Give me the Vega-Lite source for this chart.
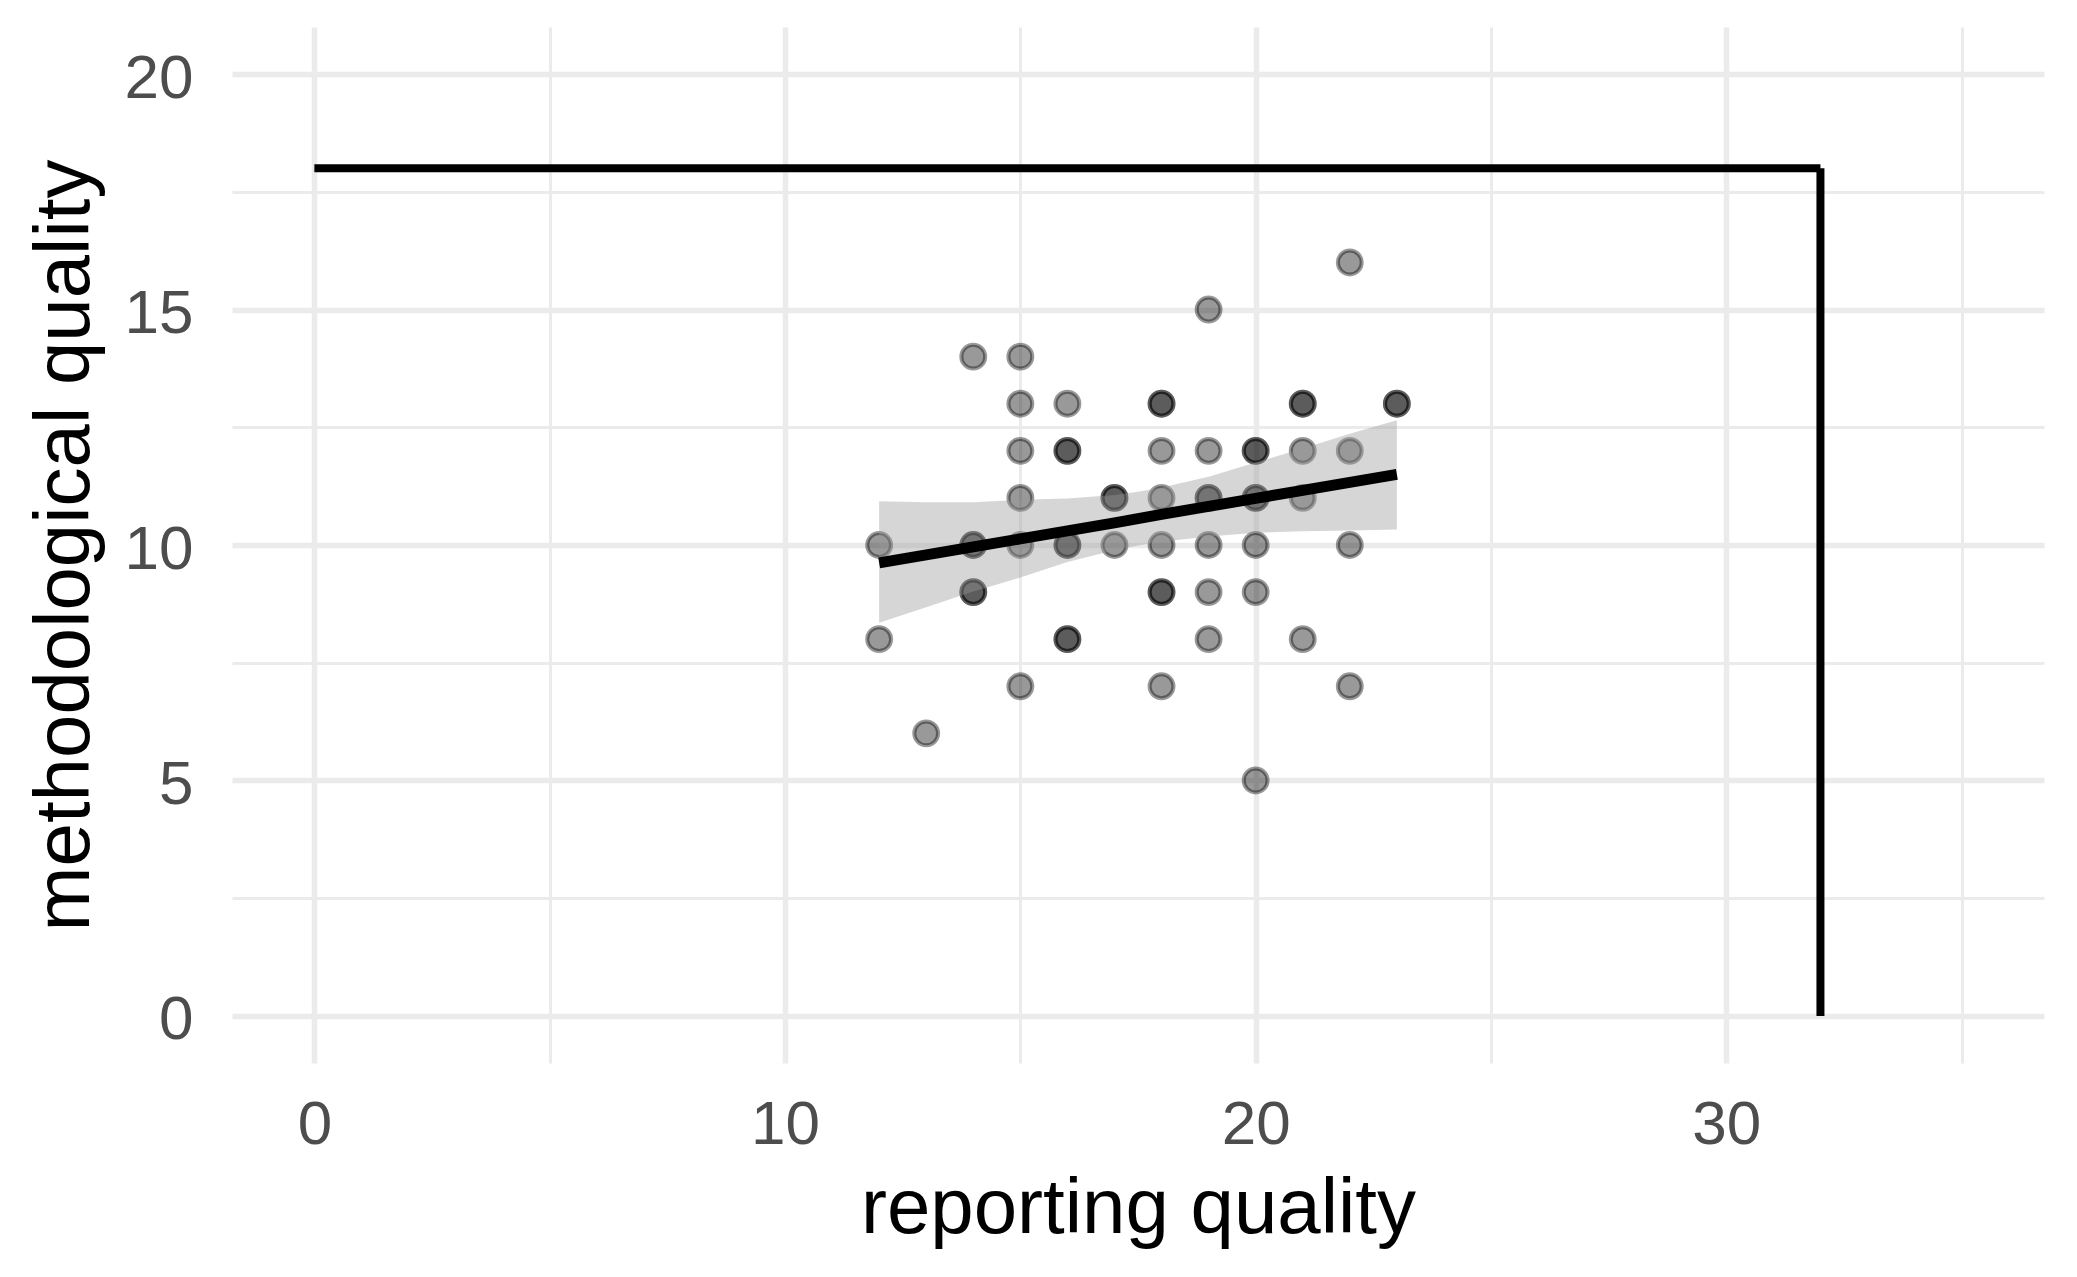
{
  "$schema": "https://vega.github.io/schema/vega-lite/v6.json",
  "width": 1812,
  "height": 1036,
  "autosize": {"type": "none"},
  "padding": {"left": 232, "top": 27, "right": 33, "bottom": 214},
  "background": "white",
  "config": {
    "view": {"stroke": null},
    "font": "Liberation Sans",
    "axis": {
      "domain": false,
      "ticks": false,
      "tickSize": 0,
      "grid": true,
      "gridColor": "#EBEBEB",
      "labelFont": "Liberation Sans",
      "labelFontSize": 62,
      "labelColor": "#4D4D4D",
      "labelOverlap": false,
      "labelFlush": false,
      "titleFont": "Liberation Sans",
      "titleFontSize": 78,
      "titleFontWeight": "normal",
      "titleColor": "#000000"
    }
  },
  "datasets": {
    "pts": [
      {"rq": 12, "mq": 10}, {"rq": 12, "mq": 8}, {"rq": 13, "mq": 6},
      {"rq": 14, "mq": 14}, {"rq": 14, "mq": 10}, {"rq": 14, "mq": 10}, {"rq": 14, "mq": 9}, {"rq": 14, "mq": 9},
      {"rq": 15, "mq": 14}, {"rq": 15, "mq": 13}, {"rq": 15, "mq": 12}, {"rq": 15, "mq": 11}, {"rq": 15, "mq": 10}, {"rq": 15, "mq": 7},
      {"rq": 16, "mq": 13}, {"rq": 16, "mq": 12}, {"rq": 16, "mq": 12}, {"rq": 16, "mq": 10}, {"rq": 16, "mq": 10}, {"rq": 16, "mq": 8}, {"rq": 16, "mq": 8},
      {"rq": 17, "mq": 11}, {"rq": 17, "mq": 11}, {"rq": 17, "mq": 10},
      {"rq": 18, "mq": 13}, {"rq": 18, "mq": 13}, {"rq": 18, "mq": 12}, {"rq": 18, "mq": 11}, {"rq": 18, "mq": 10}, {"rq": 18, "mq": 9}, {"rq": 18, "mq": 9}, {"rq": 18, "mq": 7},
      {"rq": 19, "mq": 15}, {"rq": 19, "mq": 12}, {"rq": 19, "mq": 11}, {"rq": 19, "mq": 11}, {"rq": 19, "mq": 10}, {"rq": 19, "mq": 9}, {"rq": 19, "mq": 8},
      {"rq": 20, "mq": 12}, {"rq": 20, "mq": 12}, {"rq": 20, "mq": 11}, {"rq": 20, "mq": 11}, {"rq": 20, "mq": 10}, {"rq": 20, "mq": 9}, {"rq": 20, "mq": 5},
      {"rq": 21, "mq": 13}, {"rq": 21, "mq": 13}, {"rq": 21, "mq": 12}, {"rq": 21, "mq": 11}, {"rq": 21, "mq": 8},
      {"rq": 22, "mq": 16}, {"rq": 22, "mq": 12}, {"rq": 22, "mq": 10}, {"rq": 22, "mq": 7},
      {"rq": 23, "mq": 13}, {"rq": 23, "mq": 13}
    ],
    "band": [
      {"rq": 12, "fit": 9.62, "lo": 8.35, "hi": 10.93},
      {"rq": 13, "fit": 9.79, "lo": 8.68, "hi": 10.91},
      {"rq": 14, "fit": 9.96, "lo": 9.01, "hi": 10.91},
      {"rq": 15, "fit": 10.13, "lo": 9.31, "hi": 10.96},
      {"rq": 16, "fit": 10.30, "lo": 9.64, "hi": 10.99},
      {"rq": 17, "fit": 10.47, "lo": 9.89, "hi": 11.06},
      {"rq": 17.5, "fit": 10.56, "lo": 9.99, "hi": 11.13},
      {"rq": 18, "fit": 10.65, "lo": 10.07, "hi": 11.22},
      {"rq": 19, "fit": 10.82, "lo": 10.18, "hi": 11.45},
      {"rq": 20, "fit": 10.99, "lo": 10.26, "hi": 11.75},
      {"rq": 21, "fit": 11.16, "lo": 10.29, "hi": 12.05},
      {"rq": 22, "fit": 11.33, "lo": 10.31, "hi": 12.36},
      {"rq": 23, "fit": 11.50, "lo": 10.33, "hi": 12.65}
    ],
    "segs": [
      {"x": 0, "x2": 32, "y": 18, "y2": 18},
      {"x": 32, "x2": 32, "y": 18, "y2": 0}
    ]
  },
  "layer": [
    {
      "data": {"name": "pts"},
      "mark": {"type": "point", "shape": "circle", "filled": true, "fill": "#000000", "stroke": "#000000", "fillOpacity": 0.4, "strokeOpacity": 0.4, "strokeWidth": 4, "size": 570, "opacity": 1},
      "encoding": {
        "x": {
          "field": "rq", "type": "quantitative", "title": "reporting quality",
          "scale": {"domain": [-1.75, 36.75], "nice": false, "zero": false},
          "axis": {
            "values": [0, 5, 10, 15, 20, 25, 30, 35],
            "labelExpr": "datum.value % 10 === 0 ? datum.label : ''",
            "gridWidth": {"condition": {"test": "datum.value % 10 === 0", "value": 5.5}, "value": 3},
            "labelPadding": 31,
            "titleX": 906,
            "titleY": 169,
            "titleAlign": "center",
            "titleBaseline": "alphabetic"
          }
        },
        "y": {
          "field": "mq", "type": "quantitative", "title": "methodological quality",
          "scale": {"domain": [-1, 21], "nice": false, "zero": false},
          "axis": {
            "values": [0, 2.5, 5, 7.5, 10, 12.5, 15, 17.5, 20],
            "labelExpr": "datum.value % 5 === 0 ? datum.label : ''",
            "gridWidth": {"condition": {"test": "datum.value % 5 === 0", "value": 5.5}, "value": 3},
            "labelPadding": 39,
            "labelBaseline": "middle",
            "labelOffset": 4,
            "titleX": -144,
            "titleY": 518,
            "titleAngle": -90,
            "titleAlign": "center",
            "titleBaseline": "alphabetic"
          }
        }
      }
    },
    {
      "data": {"name": "band"},
      "mark": {"type": "area", "fill": "#999999", "opacity": 0.4},
      "encoding": {
        "x": {"field": "rq", "type": "quantitative", "title": "reporting quality", "scale": {"domain": [-1.75, 36.75], "nice": false, "zero": false}},
        "y": {"field": "lo", "type": "quantitative", "title": "methodological quality", "scale": {"domain": [-1, 21], "nice": false, "zero": false}},
        "y2": {"field": "hi"}
      }
    },
    {
      "data": {"name": "band"},
      "mark": {"type": "line", "color": "#000000", "strokeWidth": 11},
      "encoding": {
        "x": {"field": "rq", "type": "quantitative", "title": "reporting quality", "scale": {"domain": [-1.75, 36.75], "nice": false, "zero": false}},
        "y": {"field": "fit", "type": "quantitative", "title": "methodological quality", "scale": {"domain": [-1, 21], "nice": false, "zero": false}}
      }
    },
    {
      "data": {"name": "segs"},
      "mark": {"type": "rule", "color": "#000000", "strokeWidth": 8, "strokeCap": "butt"},
      "encoding": {
        "x": {"field": "x", "type": "quantitative", "title": "reporting quality", "scale": {"domain": [-1.75, 36.75], "nice": false, "zero": false}},
        "x2": {"field": "x2"},
        "y": {"field": "y", "type": "quantitative", "title": "methodological quality", "scale": {"domain": [-1, 21], "nice": false, "zero": false}},
        "y2": {"field": "y2"}
      }
    }
  ]
}
